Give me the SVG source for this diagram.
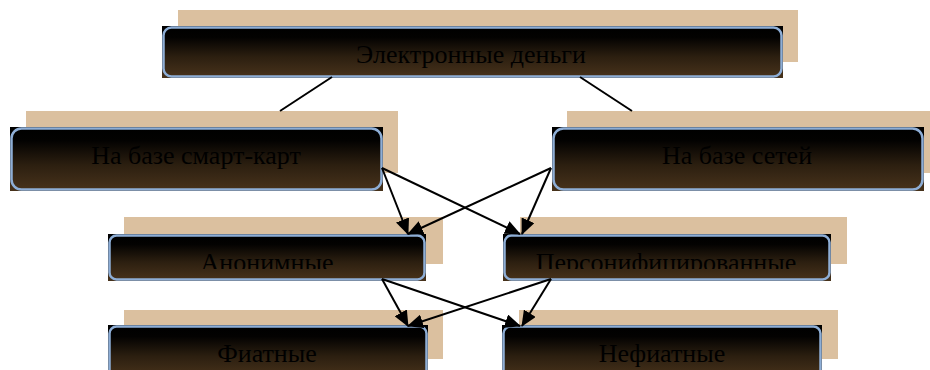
<svg xmlns="http://www.w3.org/2000/svg" width="930" height="370" viewBox="0 0 930 370">
<defs>
<linearGradient id="g" x1="0" y1="0" x2="0" y2="1">
<stop offset="0" stop-color="#000000"/>
<stop offset="0.2" stop-color="#030201"/>
<stop offset="0.6" stop-color="#2c1f10"/>
<stop offset="1" stop-color="#47321b"/>
</linearGradient>
<marker id="ah" markerUnits="userSpaceOnUse" markerWidth="16" markerHeight="14" refX="15" refY="7" orient="auto">
<path d="M0,0 L16,7 L0,14 Z" fill="#000"/>
</marker>
<clipPath id="c3l"><rect x="108" y="234" width="318" height="35"/></clipPath>
<clipPath id="c3r"><rect x="503" y="234" width="328" height="35"/></clipPath>
</defs>
<style>
.sh{fill:#dbc09f}
.bg{fill:url(#g)}
.bd{fill:url(#g);stroke:#8eaed6;stroke-width:2.5}
.t{font-family:"Liberation Serif","Times New Roman",serif;font-size:26px;fill:#000;text-anchor:middle}
.c{stroke:#000;stroke-width:2;fill:none}
.a{marker-end:url(#ah)}
</style>
<g id="node-top">
<rect class="sh" x="178" y="10" width="620" height="52"/>
<rect class="bg" x="162" y="26" width="621" height="52"/>
<rect class="bd" x="163.5" y="27.5" width="618" height="49" rx="8"/>
<text class="t" x="471" y="63">Электронные деньги</text>
</g>
<g id="node-smart">
<rect class="sh" x="26" y="111" width="372" height="62"/>
<rect class="bg" x="10" y="127" width="373" height="64"/>
<rect class="bd" x="11.5" y="128.5" width="370" height="61" rx="10"/>
<text class="t" x="196" y="164">На базе смарт-карт</text>
</g>
<g id="node-net">
<rect class="sh" x="567" y="111" width="363" height="62"/>
<rect class="bg" x="552" y="127" width="372" height="64"/>
<rect class="bd" x="553.5" y="128.5" width="369" height="61" rx="10"/>
<text class="t" x="737" y="164">На базе сетей</text>
</g>
<g id="node-anon">
<rect class="sh" x="124" y="217" width="319" height="47"/>
<rect class="bg" x="108" y="234" width="318" height="47"/>
<rect class="bd" x="109.5" y="235.5" width="315" height="44" rx="7"/>
<text class="t" x="267" y="271" clip-path="url(#c3l)">Анонимные</text>
</g>
<g id="node-pers">
<rect class="sh" x="520" y="217" width="327" height="47"/>
<rect class="bg" x="503" y="234" width="328" height="47"/>
<rect class="bd" x="504.5" y="235.5" width="325" height="44" rx="7"/>
<text class="t" x="666" y="271" clip-path="url(#c3r)">Персонифицированные</text>
</g>
<g id="node-fiat">
<rect class="sh" x="124" y="310" width="319" height="49"/>
<rect class="bg" x="108" y="325" width="320" height="50"/>
<rect class="bd" x="109.5" y="326.5" width="317" height="50" rx="7"/>
<text class="t" x="267" y="362">Фиатные</text>
</g>
<g id="node-nonfiat">
<rect class="sh" x="519" y="310" width="319" height="49"/>
<rect class="bg" x="502" y="325" width="320" height="50"/>
<rect class="bd" x="503.5" y="326.5" width="317" height="50" rx="7"/>
<text class="t" x="662" y="362">Нефиатные</text>
</g>
<g id="connectors">
<line class="c" x1="332" y1="77" x2="280" y2="111"/>
<line class="c" x1="580" y1="77" x2="632" y2="111"/>
<line class="c a" x1="382" y1="168" x2="408" y2="234"/>
<line class="c a" x1="382" y1="168" x2="520" y2="234"/>
<line class="c a" x1="551" y1="168" x2="408" y2="234"/>
<line class="c a" x1="551" y1="168" x2="522" y2="234"/>
<line class="c a" x1="382" y1="279" x2="408" y2="326"/>
<line class="c a" x1="382" y1="279" x2="520" y2="326"/>
<line class="c a" x1="551" y1="279" x2="408" y2="326"/>
<line class="c a" x1="551" y1="279" x2="522" y2="326"/>
</g>
</svg>
